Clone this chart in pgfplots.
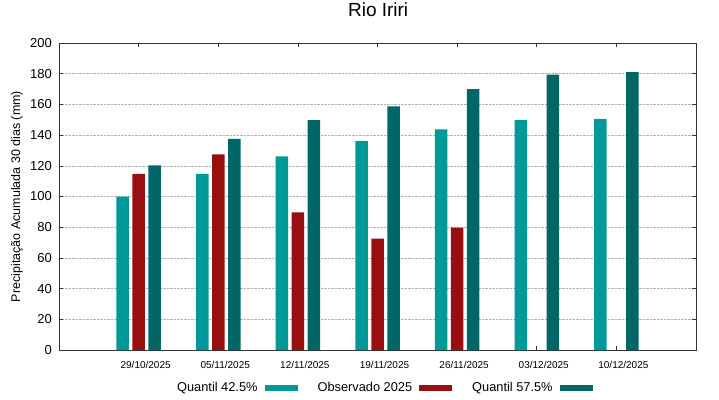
\documentclass[border=0pt]{standalone}
\usepackage{pgfplots}
\pgfplotsset{compat=1.18}
\usepackage{fontspec}
\setmainfont{Liberation Sans}
\definecolor{cA}{RGB}{0,153,153}
\definecolor{cB}{RGB}{153,15,15}
\definecolor{cC}{RGB}{0,102,102}
\begin{document}
\begin{tikzpicture}
\useasboundingbox (-59pt,-49pt) rectangle (660pt,350pt);
\begin{axis}[
  scale only axis,
  width=637pt, height=307pt,
  at={(0pt,0pt)}, anchor=south west,
  xmin=-1, xmax=7, ymin=0, ymax=200,
  ybar, bar width=12.5pt,
  xtick={0,1,2,3,4,5,6},
  xticklabels={29/10/2025,05/11/2025,12/11/2025,19/11/2025,26/11/2025,03/12/2025,10/12/2025},
  ytick={0,20,...,200},
  tick align=inside,
  major tick length=4pt,
  xtick pos=both, ytick pos=both,
  /pgf/number format/assume math mode=true,
  ymajorgrids,
  major grid style={gray!60, densely dotted, line width=0.6pt},
  axis line style={black!80, line width=0.8pt},
  every tick/.style={black!80, line width=0.6pt},
  yticklabel style={font=\fontsize{13}{15}\selectfont, inner sep=0pt, xshift=-7pt},
  xticklabel style={font=\fontsize{10}{12}\selectfont, inner sep=0pt, yshift=-11pt, xshift=7pt},
  title={Rio Iriri},
  title style={font=\fontsize{19}{22}\selectfont, at={(axis description cs:0.501,1)}, anchor=center, yshift=27pt},
  ylabel={Precipitação Acumulada 30 dias (mm)},
  every axis y label/.style={at={(axis description cs:-0.0659,0.5)}, rotate=90, anchor=center, font=\fontsize{12.5}{14}\selectfont},
  legend columns=3,
  legend plot pos=right,
  legend style={draw=none, fill=none, at={(axis description cs:0.51,-0.124)}, anchor=center,
    font=\fontsize{12.8}{14}\selectfont,
    /tikz/every even column/.append style={column sep=18pt},
    /tikz/every odd column/.append style={column sep=5pt}},
  legend cell align=left,
]
\addplot[fill=cA, draw=none, bar shift=-16pt, legend image code/.code={\fill[cA] (0pt,-3pt) rectangle (33pt,3pt);}]
  coordinates {(0,100) (1,114.7) (2,126.2) (3,136) (4,143.8) (5,149.8) (6,150.5)};
\addlegendentry{Quantil 42.5\%}
\addplot[fill=cB, draw=none, bar shift=0pt, legend image code/.code={\fill[cB] (0pt,-3pt) rectangle (33pt,3pt);}]
  coordinates {(0,114.7) (1,127.5) (2,89.7) (3,72.5) (4,79.7)};
\addlegendentry{Observado 2025}
\addplot[fill=cC, draw=none, bar shift=16pt, legend image code/.code={\fill[cC] (0pt,-3pt) rectangle (33pt,3pt);}]
  coordinates {(0,120.3) (1,137.5) (2,149.8) (3,158.7) (4,170) (5,179.4) (6,181)};
\addlegendentry{Quantil 57.5\%}
\end{axis}
\end{tikzpicture}
\end{document}
